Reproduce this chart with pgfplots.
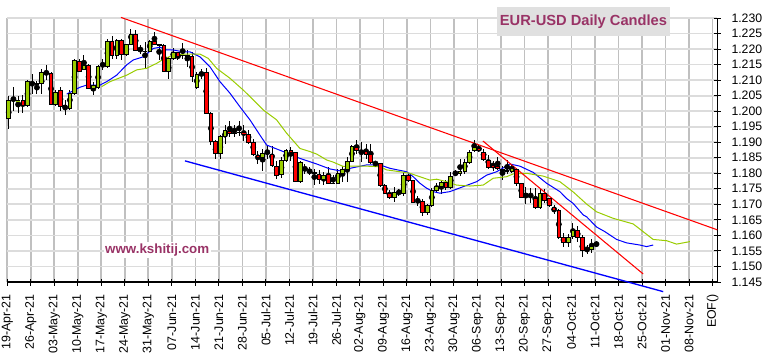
\documentclass[border=0pt]{standalone}
\usepackage{pgfplots}
\pgfplotsset{compat=1.18}
\usepackage{pgfplotstable}
\usepackage{fontspec}
\setmainfont{Liberation Sans}
\definecolor{cgreen}{RGB}{153,204,0}
\definecolor{cred}{RGB}{255,0,0}
\definecolor{cmaroon}{RGB}{153,51,102}
\definecolor{boxgray}{RGB}{224,224,224}
\definecolor{vgrid}{RGB}{192,192,192}
\definecolor{hgrid}{RGB}{220,220,220}

\pgfdeclareplotmark{candle}{%
  \pgfmathsetlengthmacro{\candlehalf}{max(\hh,0.06)*1pt}%
  \pgfmathsetlengthmacro{\candlefull}{2*max(\hh,0.06)*1pt}%
  \pgfpathrectangle{\pgfpoint{-1.35pt}{-\candlehalf}}{\pgfpoint{2.7pt}{\candlefull}}%
  \pgfusepathqfillstroke}

\pgfplotstableread{
x o h l c
0.3 1.1976 1.2049 1.1944 1.2035
2.3 1.2033 1.2048 1.1995 1.2034
4.3 1.2017 1.2099 1.2013 1.2096
7.3 1.2088 1.2137 1.2056 1.2124
10.3 1.2021 1.2067 1.2017 1.2060
13.3 1.2009 1.2069 1.2003 1.2056
14.3 1.2056 1.2169 1.2051 1.2164
16.3 1.2134 1.2180 1.2132 1.2148
18.3 1.2073 1.2094 1.2051 1.2082
19.3 1.2076 1.2148 1.2070 1.2145
20.3 1.2147 1.2167 1.2132 1.2149
21.3 1.2144 1.2234 1.2140 1.2223
23.3 1.2178 1.2234 1.2169 1.2228
25.3 1.2182 1.2218 1.2178 1.2214
26.3 1.2214 1.2266 1.2212 1.2247
30.3 1.2192 1.2228 1.2191 1.2226
34.3 1.2128 1.2175 1.2105 1.2169
35.3 1.2169 1.2202 1.2164 1.2189
37.3 1.2178 1.2218 1.2169 1.2181
40.3 1.2075 1.2125 1.2070 1.2118
41.3 1.2123 1.2135 1.2105 1.2125
45.3 1.1863 1.1922 1.1847 1.1917
46.3 1.1917 1.1954 1.1895 1.1938
48.3 1.1927 1.1957 1.1918 1.1929
49.3 1.1930 1.1970 1.1920 1.1932
54.3 1.1850 1.1879 1.1809 1.1863
55.3 1.1863 1.1889 1.1847 1.1865
58.3 1.1795 1.1852 1.1785 1.1842
59.3 1.1842 1.1879 1.1836 1.1874
62.3 1.1775 1.1840 1.1770 1.1836
67.3 1.1779 1.1804 1.1761 1.1793
70.3 1.1768 1.1814 1.1766 1.1798
71.3 1.1798 1.1825 1.1771 1.1811
72.3 1.1811 1.1852 1.1771 1.1839
73.3 1.1839 1.1890 1.1836 1.1886
82.3 1.1723 1.1755 1.1707 1.1739
84.3 1.1734 1.1800 1.1728 1.1793
89.3 1.1675 1.1702 1.1665 1.1697
90.3 1.1697 1.1752 1.1693 1.1746
91.3 1.1746 1.1770 1.1735 1.1758
92.3 1.1758 1.1778 1.1735 1.1772
94.3 1.1755 1.1804 1.1750 1.1790
95.3 1.1795 1.1810 1.1790 1.1797
96.3 1.1798 1.1847 1.1793 1.1807
97.3 1.1806 1.1847 1.1798 1.1836
98.3 1.1836 1.1874 1.1831 1.1868
99.3 1.1874 1.1908 1.1868 1.1882
107.3 1.1806 1.1830 1.1800 1.1815
110.3 1.1732 1.1755 1.1702 1.1734
113.3 1.1689 1.1750 1.1684 1.1734
119.3 1.1578 1.1605 1.1563 1.1594
120.3 1.1597 1.1640 1.1588 1.1616
124.3 1.1556 1.1590 1.1545 1.1564
125.3 1.1574 1.1582 1.1562 1.1575
}\bull

\pgfplotstableread{
x o h l c
1.3 1.2035 1.2078 1.2000 1.2033
3.3 1.2033 1.2051 1.1995 1.2017
5.3 1.2093 1.2121 1.2056 1.2090
6.3 1.2090 1.2096 1.2056 1.2087
8.3 1.2124 1.2148 1.2099 1.2122
9.3 1.2121 1.2126 1.2019 1.2021
11.3 1.2068 1.2078 1.2000 1.2014
12.3 1.2019 1.2035 1.1989 1.2017
15.3 1.2161 1.2169 1.2126 1.2129
17.3 1.2148 1.2151 1.2070 1.2073
22.3 1.2223 1.2241 1.2169 1.2180
24.3 1.2228 1.2234 1.2164 1.2182
27.3 1.2247 1.2261 1.2193 1.2196
28.3 1.2196 1.2212 1.2185 1.2194
29.3 1.2193 1.2223 1.2137 1.2191
31.3 1.2226 1.2255 1.2212 1.2215
32.3 1.2214 1.2218 1.2164 1.2212
33.3 1.2212 1.2215 1.2126 1.2128
36.3 1.2189 1.2191 1.2164 1.2175
38.3 1.2179 1.2196 1.2143 1.2177
39.3 1.2175 1.2191 1.2093 1.2111
42.3 1.2126 1.2138 1.1990 1.1994
43.3 1.1992 1.1998 1.1892 1.1904
44.3 1.1904 1.1906 1.1847 1.1863
47.3 1.1936 1.1970 1.1917 1.1927
50.3 1.1931 1.1955 1.1904 1.1930
51.3 1.1925 1.1938 1.1895 1.1898
52.3 1.1898 1.1911 1.1857 1.1861
53.3 1.1857 1.1873 1.1830 1.1850
56.3 1.1861 1.1889 1.1820 1.1825
57.3 1.1823 1.1841 1.1782 1.1793
60.3 1.1874 1.1884 1.1841 1.1866
61.3 1.1866 1.1870 1.1772 1.1775
63.3 1.1818 1.1831 1.1798 1.1816
64.3 1.1806 1.1820 1.1793 1.1804
65.3 1.1804 1.1815 1.1761 1.1798
66.3 1.1796 1.1810 1.1766 1.1779
68.3 1.1796 1.1820 1.1764 1.1768
69.3 1.1768 1.1793 1.1766 1.1767
74.3 1.1882 1.1906 1.1863 1.1872
75.3 1.1869 1.1900 1.1836 1.1868
76.3 1.1871 1.1895 1.1847 1.1862
77.3 1.1861 1.1895 1.1831 1.1836
78.3 1.1835 1.1838 1.1825 1.1834
79.3 1.1831 1.1833 1.1755 1.1761
80.3 1.1761 1.1766 1.1734 1.1736
81.3 1.1736 1.1745 1.1718 1.1723
83.3 1.1739 1.1750 1.1728 1.1734
85.3 1.1793 1.1800 1.1771 1.1777
86.3 1.1777 1.1780 1.1703 1.1707
87.3 1.1710 1.1728 1.1695 1.1707
88.3 1.1710 1.1718 1.1664 1.1675
93.3 1.1770 1.1779 1.1745 1.1754
100.3 1.1879 1.1890 1.1868 1.1872
101.3 1.1868 1.1879 1.1841 1.1844
102.3 1.1841 1.1858 1.1815 1.1818
103.3 1.1825 1.1841 1.1809 1.1818
104.3 1.1823 1.1852 1.1811 1.1815
105.3 1.1812 1.1823 1.1779 1.1809
106.3 1.1809 1.1843 1.1798 1.1807
108.3 1.1814 1.1818 1.1760 1.1766
109.3 1.1766 1.1770 1.1719 1.1723
111.3 1.1730 1.1752 1.1705 1.1729
112.3 1.1718 1.1752 1.1684 1.1689
114.3 1.1736 1.1750 1.1705 1.1712
115.3 1.1718 1.1722 1.1691 1.1696
116.3 1.1691 1.1697 1.1670 1.1680
117.3 1.1680 1.1684 1.1588 1.1594
118.3 1.1594 1.1608 1.1563 1.1578
121.3 1.1616 1.1630 1.1580 1.1594
122.3 1.1594 1.1600 1.1529 1.1553
123.3 1.1556 1.1570 1.1540 1.1553
}\bear

\begin{document}
\begin{tikzpicture}
\path[use as bounding box] (0pt,0pt) rectangle (576pt,271.5pt);
\begin{axis}[
  at={(5.475pt,60pt)}, anchor=south west,
  scale only axis, width=532.5pt, height=198pt,
  xmin=0, xmax=151, ymin=1.145, ymax=1.230,
  clip=false,
  axis x line=bottom, axis y line=right,
  axis line style={-, black, line width=0.9pt},
  tick style={black, line width=0.75pt},
  major tick length=5.25pt, tick align=center,
  xmajorgrids, ymajorgrids,
  x grid style={vgrid, line width=1.3pt},
  y grid style={hgrid, line width=1.3pt},
  xtick={0,5,...,150},
  xticklabels={19-Apr-21,26-Apr-21,03-May-21,10-May-21,17-May-21,24-May-21,31-May-21,07-Jun-21,14-Jun-21,21-Jun-21,28-Jun-21,05-Jul-21,12-Jul-21,19-Jul-21,26-Jul-21,02-Aug-21,09-Aug-21,16-Aug-21,23-Aug-21,30-Aug-21,06-Sep-21,13-Sep-21,20-Sep-21,27-Sep-21,04-Oct-21,11-Oct-21,18-Oct-21,25-Oct-21,01-Nov-21,08-Nov-21,EOF()},
  xticklabel style={rotate=90, anchor=east, font=\fontsize{9.3}{10}\selectfont, xshift=-3pt},
  ytick={1.145,1.150,1.155,1.160,1.165,1.170,1.175,1.180,1.185,1.190,1.195,1.200,1.205,1.210,1.215,1.220,1.225,1.230},
  scaled y ticks=false,
  yticklabel style={font=\fontsize{9.2}{10}\selectfont, xshift=4.5pt,
    /pgf/number format/fixed, /pgf/number format/fixed zerofill,
    /pgf/number format/precision=3, /pgf/number format/assume math mode=true},
]
% wicks
\addplot[only marks, mark=none, forget plot, error bars/.cd, y dir=both, y explicit, error mark=none,
  error bar style={draw=black, solid, line width=0.75pt}]
  table[x=x, y expr={(\thisrow{h}+\thisrow{l})/2}, y error expr={(\thisrow{h}-\thisrow{l})/2}] {\bull};
\addplot[only marks, mark=none, forget plot, error bars/.cd, y dir=both, y explicit, error mark=none,
  error bar style={draw=black, solid, line width=0.75pt}]
  table[x=x, y expr={(\thisrow{h}+\thisrow{l})/2}, y error expr={(\thisrow{h}-\thisrow{l})/2}] {\bear};
% bodies
\addplot[only marks, mark=candle, forget plot,
  mark options={fill=cgreen, draw=black, line width=0.7pt, solid},
  visualization depends on={1164.7*abs(\thisrow{c}-\thisrow{o}) \as \hh}]
  table[x=x, y expr={(\thisrow{o}+\thisrow{c})/2}] {\bull};
\addplot[only marks, mark=candle, forget plot,
  mark options={fill=cred, draw=black, line width=0.7pt, solid},
  visualization depends on={1164.7*abs(\thisrow{c}-\thisrow{o}) \as \hh}]
  table[x=x, y expr={(\thisrow{o}+\thisrow{c})/2}] {\bear};
% moving averages
\addplot[blue, line width=0.75pt, mark=none] coordinates {
(12.63,1.2055)(15.46,1.2077)(16.88,1.2084)(19.71,1.2084)(21.14,1.2095)(23.26,1.2116)(25.39,1.2149)(26.79,1.2165)(28.92,1.2175)(31.04,1.2202)(32.47,1.2206)(33.89,1.2197)(35.30,1.2197)(37.42,1.2191)(38.85,1.2191)(40.97,1.2175)(43.10,1.2143)(45.23,1.2095)(47.35,1.2058)(49.48,1.2014)(51.61,1.1972)(53.73,1.1923)(55.15,1.1891)(58.69,1.1870)(62.24,1.1848)(65.79,1.1830)(68.62,1.1814)(71.10,1.1807)(72.87,1.1816)(76.42,1.1827)(79.25,1.1827)(81.38,1.1816)(84.93,1.1805)(86.33,1.1789)(87.75,1.1768)(89.18,1.1752)(90.58,1.1741)(92.00,1.1736)(94.13,1.1741)(96.96,1.1757)(99.81,1.1773)(101.93,1.1794)(104.06,1.1805)(106.89,1.1830)(109.01,1.1823)(111.84,1.1803)(114.69,1.1768)(117.52,1.1741)(118.94,1.1719)(120.35,1.1703)(122.48,1.1666)(123.20,1.1660)(125.33,1.1627)(127.10,1.1612)(129.58,1.1587)(131.71,1.1576)(134.53,1.1569)(135.96,1.1564)(137.36,1.1569)
};
\addplot[cgreen, line width=0.75pt, mark=none] coordinates {
(20.07,1.2079)(21.84,1.2095)(25.39,1.2116)(27.51,1.2133)(29.64,1.2138)(31.77,1.2154)(33.17,1.2167)(35.30,1.2181)(38.15,1.2184)(40.97,1.2184)(42.74,1.2170)(44.52,1.2138)(47.35,1.2106)(50.18,1.2068)(51.61,1.2047)(54.43,1.2004)(57.28,1.1972)(59.41,1.1929)(62.24,1.1880)(64.36,1.1870)(65.79,1.1862)(67.91,1.1843)(69.32,1.1836)(71.44,1.1822)(72.87,1.1823)(76.42,1.1823)(79.25,1.1821)(80.67,1.1811)(83.50,1.1805)(85.62,1.1800)(87.75,1.1789)(89.88,1.1778)(91.30,1.1781)(93.43,1.1773)(95.56,1.1762)(98.39,1.1759)(101.21,1.1762)(103.34,1.1784)(106.19,1.1789)(107.59,1.1798)(110.44,1.1800)(113.97,1.1791)(117.52,1.1773)(120.35,1.1740)(123.20,1.1701)(125.33,1.1676)(128.86,1.1655)(133.11,1.1637)(135.24,1.1612)(137.36,1.1587)(140.21,1.1583)(142.34,1.1572)(145.16,1.1580)
};
% trend lines
\addplot[cred, line width=0.8pt, mark=none] coordinates {(24.17,1.2302)(151,1.1618)};
\addplot[cred, line width=0.8pt, mark=none] coordinates {(101.15,1.1904)(135.23,1.1476)};
\addplot[blue, line width=1pt, mark=none] coordinates {(37.78,1.1840)(139.49,1.1419)};
\end{axis}
\node[fill=boxgray, minimum width=129.75pt, minimum height=21.3pt, inner sep=0pt,
  text=cmaroon, font=\bfseries\fontsize{11}{13}\selectfont] at (437.6pt,255.4pt) {EUR-USD Daily Candles};
\node[fill=white, inner sep=1pt, text=cmaroon, font=\bfseries\fontsize{10}{12}\selectfont]
  at (117.9pt,84pt) {www.kshitij.com};
\end{tikzpicture}
\end{document}
